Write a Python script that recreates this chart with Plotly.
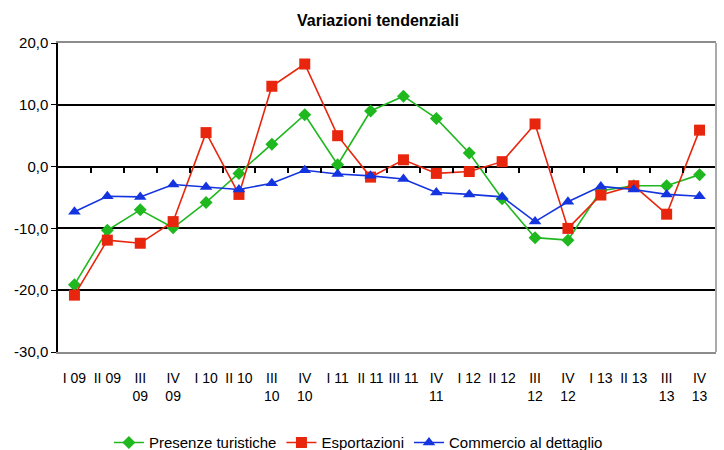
import plotly.graph_objects as go

categories = ["I 09", "II 09", "III<br>09", "IV<br>09", "I 10", "II 10", "III<br>10", "IV<br>10",
              "I 11", "II 11", "III 11", "IV<br>11", "I 12", "II 12", "III<br>12", "IV<br>12",
              "I 13", "II 13", "III<br>13", "IV<br>13"]

presenze_turistiche = [-19.1, -10.3, -7.0, -9.9, -5.8, -1.1, 3.6, 8.4, 0.3, 9.0,
                       11.4, 7.8, 2.2, -5.2, -11.5, -11.9, -3.9, -3.1, -3.1, -1.3]
esportazioni = [-20.8, -11.9, -12.4, -8.9, 5.5, -4.5, 13.0, 16.6, 5.0, -1.7,
                1.1, -1.1, -0.8, 0.8, 6.9, -10.0, -4.6, -3.1, -7.7, 5.9]
commercio_dettaglio = [-7.3, -4.8, -4.9, -2.9, -3.3, -3.7, -2.7, -0.6, -1.2, -1.5,
                       -2.0, -4.2, -4.5, -4.9, -8.9, -5.7, -3.2, -3.7, -4.5, -4.8]

y_ticks = [-30, -20, -10, 0, 10, 20]
y_tick_labels = ["-30,0", "-20,0", "-10,0", "0,0", "10,0", "20,0"]

SANS = "Liberation Sans, Arial, sans-serif"
n = len(categories)

fig = go.Figure()
fig.add_trace(go.Scatter(x=categories, y=presenze_turistiche, name="Presenze turistiche",
                         mode="lines+markers", line=dict(color="#1fb81f", width=1.6),
                         marker=dict(symbol="diamond", size=10, color="#1fb81f")))
fig.add_trace(go.Scatter(x=categories, y=esportazioni, name="Esportazioni",
                         mode="lines+markers", line=dict(color="#e8260e", width=1.6),
                         marker=dict(symbol="square", size=11, color="#e8260e")))
fig.add_trace(go.Scatter(x=categories, y=commercio_dettaglio, name="Commercio al dettaglio",
                         mode="lines+markers", line=dict(color="#1434e0", width=1.6),
                         marker=dict(symbol="triangle-up", size=11, color="#1434e0")))
# helper trace so the boundary-tick axis at zero is drawn
fig.add_trace(go.Scatter(x=[0], y=[0], xaxis="x2", mode="markers", marker=dict(opacity=0),
                         showlegend=False, hoverinfo="skip"))

fig.update_layout(
    width=724, height=450,
    margin=dict(l=58, r=8, t=43, b=98, autoexpand=False),
    paper_bgcolor="white", plot_bgcolor="white",
    title=dict(text="<b>Variazioni tendenziali</b>", x=0.522, xanchor="center",
               y=0.955, yanchor="middle", font=dict(family=SANS, size=16, color="black")),
    xaxis=dict(type="category", range=[-0.5, n - 0.5], showgrid=False, showline=True,
               linecolor="#8c8c8c", linewidth=2, mirror=True, ticks="", tickangle=0,
               ticklabelstandoff=12, automargin=False,
               tickfont=dict(family=SANS, size=14, color="black"), zeroline=False),
    xaxis2=dict(overlaying="x", anchor="free", position=0.6, range=[-0.5, n - 0.5],
                tickmode="array", tickvals=[i + 0.5 for i in range(n - 1)], ticks="outside",
                ticklen=5, tickwidth=1.5, tickcolor="black", showticklabels=False,
                showline=False, showgrid=False, zeroline=False),
    yaxis=dict(range=[-30, 20], tickmode="array", tickvals=y_ticks, ticktext=y_tick_labels,
               showgrid=True, gridcolor="black", gridwidth=1.5, zeroline=True,
               zerolinecolor="black", zerolinewidth=1.5, showline=True, linecolor="black",
               linewidth=1.5, ticks="outside", ticklen=5, tickcolor="black", automargin=False,
               tickfont=dict(family=SANS, size=15, color="black")),
    legend=dict(orientation="h", xref="container", yref="container", x=0.495, xanchor="center",
                y=0.016, yanchor="middle", font=dict(family=SANS, size=15, color="black"),
                itemwidth=30, tracegroupgap=0),
    shapes=[dict(type="line", xref="paper", yref="paper", x0=1, x1=1, y0=0, y1=1,
                 line=dict(color="#aaaaaa", width=2))],
)

fig.write_html("out.html", config={"displayModeBar": False},
               post_script="document.body.style.margin='0';")
